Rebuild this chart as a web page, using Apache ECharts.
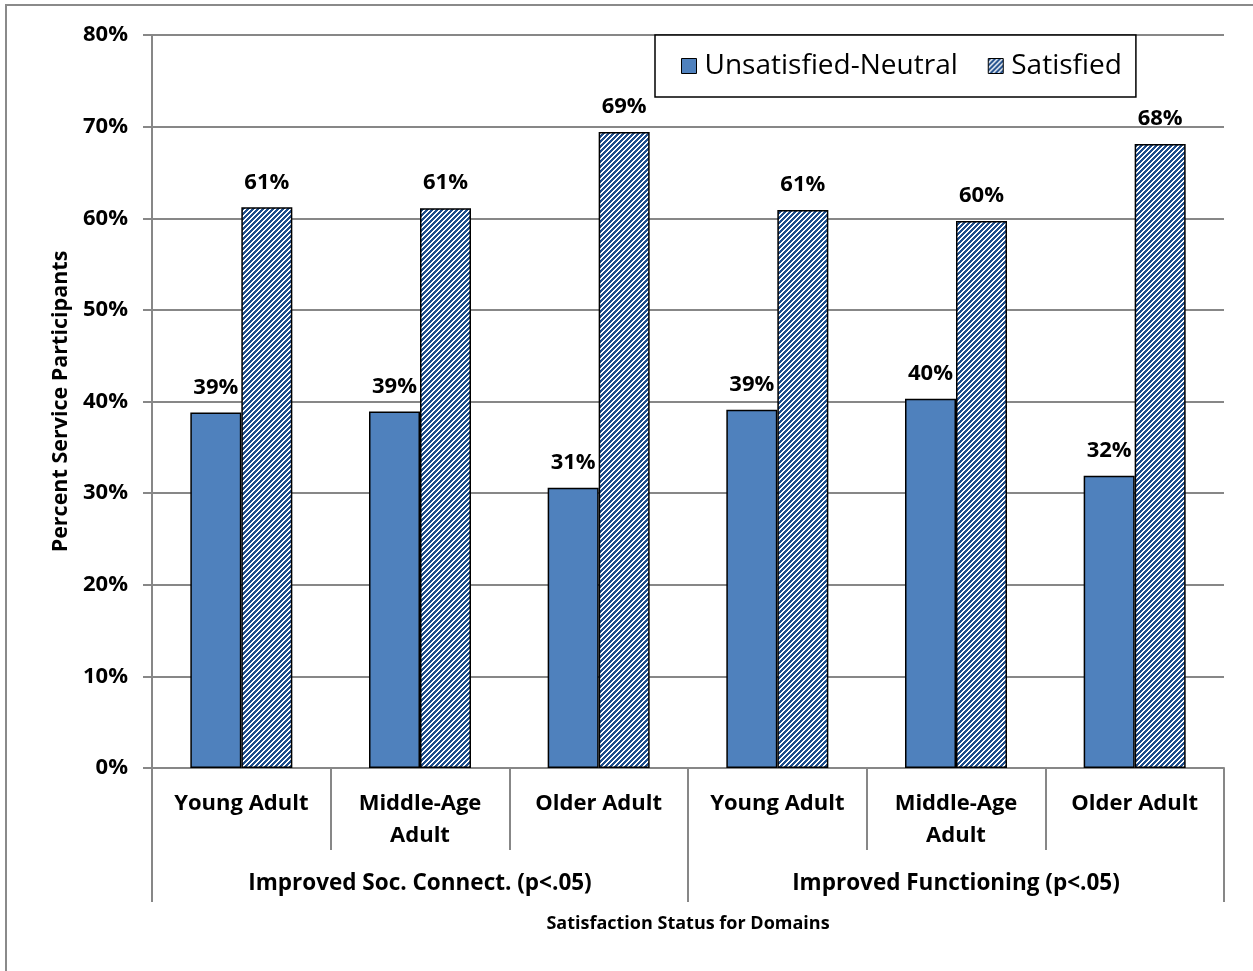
<!DOCTYPE html>
<html>
<head>
<meta charset="utf-8">
<script src="https://cdn.jsdelivr.net/npm/echarts@6/dist/echarts.min.js"></script>
<style>
  html, body { margin: 0; padding: 0; background: #ffffff; }
  #chart { width: 1253px; height: 971px; }
</style>
</head>
<body>
<div id="chart"></div>
<script>
// Age groups within each satisfaction domain
const categories = ['Young Adult', 'Middle-Age\nAdult', 'Older Adult', 'Young Adult', 'Middle-Age\nAdult', 'Older Adult'];
const domains = ['Improved Soc. Connect. (p<.05)', 'Improved Functioning (p<.05)'];
// Percent of service participants
const unsatisfiedNeutral = [38.8, 38.9, 30.6, 39.1, 40.3, 31.9];
const satisfied = [61.2, 61.1, 69.4, 60.9, 59.7, 68.1];
const yTicks = [0, 10, 20, 30, 40, 50, 60, 70, 80];

const FONT = '"Open Sans", "Liberation Sans", sans-serif';
const GRID_GRAY = '#878787';

// Diagonal hatch fill for the "Satisfied" bars
function hatchPattern() {
  const n = 5;
  const c = document.createElement('canvas');
  c.width = n; c.height = n;
  const ctx = c.getContext('2d');
  ctx.fillStyle = '#ffffff';
  ctx.fillRect(0, 0, n, n);
  ctx.fillStyle = '#1f4e8c';
  for (let x = 0; x < n; x++) {
    for (let y = 0; y < n; y++) {
      if ((x + y) % n < 3) ctx.fillRect(x, y, 1, 1);
    }
  }
  return { image: c, repeat: 'repeat' };
}

const chart = echarts.init(document.getElementById('chart'), null, { renderer: 'canvas' });

const pctLabel = {
  show: true,
  position: 'top',
  distance: 14,
  fontFamily: FONT,
  fontWeight: 'bold',
  fontSize: 22,
  color: '#000',
  formatter: p => Math.round(p.value) + '%'
};

chart.setOption({
  animation: false,
  backgroundColor: '#ffffff',
  graphic: [{
    type: 'rect',
    shape: { x: 6, y: 5, width: 1300, height: 1000 },
    style: { fill: 'none', stroke: '#8a8a8a', lineWidth: 2 },
    z: -10
  }],
  grid: { left: 152, right: 29, top: 35, bottom: 203, containLabel: false },
  legend: {
    left: 655,
    top: 35,
    data: ['Unsatisfied-Neutral', 'Satisfied'],
    icon: 'rect',
    backgroundColor: '#ffffff',
    borderColor: '#000',
    borderWidth: 1.5,
    padding: [17, 14, 17, 26],
    itemWidth: 15,
    itemHeight: 15,
    itemGap: 30,
    itemStyle: { borderColor: '#000', borderWidth: 1 },
    textStyle: { fontFamily: FONT, fontSize: 28, color: '#000', padding: [0, 0, 0, 3] }
  },
  xAxis: [{
    type: 'category',
    data: categories,
    position: 'bottom',
    axisLine: { show: true, lineStyle: { color: GRID_GRAY, width: 2 } },
    axisTick: { show: true, interval: 0, length: 82, lineStyle: { color: GRID_GRAY, width: 2 } },
    axisLabel: {
      interval: 0, margin: 20,
      fontFamily: FONT, fontWeight: 'bold', fontSize: 22, color: '#000', lineHeight: 32
    },
    name: 'Satisfaction Status for Domains',
    nameLocation: 'middle',
    nameGap: 147,
    nameTextStyle: { fontFamily: FONT, fontWeight: 'bold', fontSize: 18, color: '#000' }
  }, {
    type: 'category',
    data: domains,
    position: 'bottom',
    axisLine: { show: false },
    axisTick: { show: true, interval: 0, length: 134, lineStyle: { color: GRID_GRAY, width: 2 } },
    axisLabel: {
      interval: 0, margin: 104,
      fontFamily: FONT, fontWeight: 'bold', fontSize: 22.5, color: '#000'
    }
  }],
  yAxis: {
    type: 'value',
    min: 0,
    max: 80,
    interval: 10,
    axisLine: { show: true, lineStyle: { color: GRID_GRAY, width: 2 } },
    axisTick: { show: true, length: 9, lineStyle: { color: GRID_GRAY, width: 2 } },
    splitLine: { show: true, lineStyle: { color: GRID_GRAY, width: 2 } },
    axisLabel: {
      margin: 24,
      fontFamily: FONT, fontWeight: 'bold', fontSize: 22, color: '#000',
      formatter: v => yTicks.includes(v) ? v + '%' : ''
    },
    name: 'Percent Service Participants',
    nameLocation: 'middle',
    nameGap: 80,
    nameTextStyle: { fontFamily: FONT, fontWeight: 'bold', fontSize: 21.5, color: '#000' }
  },
  series: [{
    name: 'Unsatisfied-Neutral',
    type: 'bar',
    xAxisIndex: 0,
    data: unsatisfiedNeutral,
    barWidth: 51,
    barGap: '0%',
    itemStyle: { color: '#4f81bd', borderColor: '#000', borderWidth: 1.5 },
    label: pctLabel
  }, {
    name: 'Satisfied',
    type: 'bar',
    xAxisIndex: 0,
    data: satisfied,
    barWidth: 51,
    barGap: '0%',
    itemStyle: { color: hatchPattern(), borderColor: '#000', borderWidth: 1.5 },
    label: pctLabel
  }]
});
</script>
</body>
</html>
